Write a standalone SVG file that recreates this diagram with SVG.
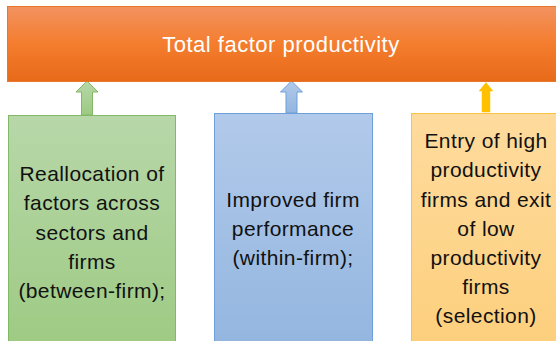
<svg xmlns="http://www.w3.org/2000/svg" width="556" height="341" viewBox="0 0 556 341">
<defs>
<linearGradient id="gTop" x1="0" y1="0" x2="0" y2="1"><stop offset="0" stop-color="#f29260"/><stop offset="0.5" stop-color="#f47d2e"/><stop offset="1" stop-color="#e76a18"/></linearGradient>
<linearGradient id="gGreen" x1="0" y1="0" x2="0" y2="1"><stop offset="0" stop-color="#b7d7a9"/><stop offset="1" stop-color="#9dca82"/></linearGradient>
<linearGradient id="gBlue" x1="0" y1="0" x2="0" y2="1"><stop offset="0" stop-color="#b2caea"/><stop offset="1" stop-color="#92b5df"/></linearGradient>
<linearGradient id="gOrange" x1="0" y1="0" x2="0" y2="1"><stop offset="0" stop-color="#fedb9d"/><stop offset="1" stop-color="#fdcf7c"/></linearGradient>
</defs>
<style>
text{font-family:"Liberation Sans",Arial,sans-serif;font-size:21px;letter-spacing:0.4px;text-anchor:middle;fill:#111}
.title{fill:#fff;font-size:22px;letter-spacing:0.5px}
</style>
<rect width="556" height="341" fill="#fff"/>
<g id="connectors">
<path d="M81.5,115 V92 H76 L87,81 L98,92 H92.5 V115 Z" fill="url(#gGreen)" stroke="#82b866" stroke-width="1"/>
<path d="M286,113 V92 H280.5 L291.5,81 L302.5,92 H297 V113 Z" fill="url(#gBlue)" stroke="#6f9fd8" stroke-width="1"/>
<path d="M481,113 V92 H477 L486,81 L495,92 H491 V113 Z" fill="#ffc000" stroke="#fff" stroke-width="1.5"/>
</g>
<g id="top">
<rect x="7.5" y="6.5" width="560" height="75" fill="url(#gTop)" stroke="#e8772e" stroke-width="1"/>
<text class="title" x="281" y="52">Total factor productivity</text>
</g>
<g id="green">
<rect x="8.5" y="115.5" width="167" height="240" fill="url(#gGreen)" stroke="#82b866" stroke-width="1"/>
<text x="92" y="181">Reallocation of</text>
<text x="92" y="210">factors across</text>
<text x="92" y="240">sectors and</text>
<text x="92" y="269">firms</text>
<text x="92" y="298">(between-firm);</text>
</g>
<g id="blue">
<rect x="214.5" y="113.5" width="158" height="240" fill="url(#gBlue)" stroke="#6f9fd8" stroke-width="1"/>
<text x="293" y="207">Improved firm</text>
<text x="293" y="236">performance</text>
<text x="293" y="265">(within-firm);</text>
</g>
<g id="orange">
<rect x="411.5" y="113.5" width="160" height="240" fill="url(#gOrange)" stroke="#f9c246" stroke-width="1"/>
<text x="486" y="148">Entry of high</text>
<text x="486" y="177">productivity</text>
<text x="486" y="207">firms and exit</text>
<text x="486" y="236">of low</text>
<text x="486" y="265">productivity</text>
<text x="486" y="294">firms</text>
<text x="486" y="323">(selection)</text>
</g>
</svg>
